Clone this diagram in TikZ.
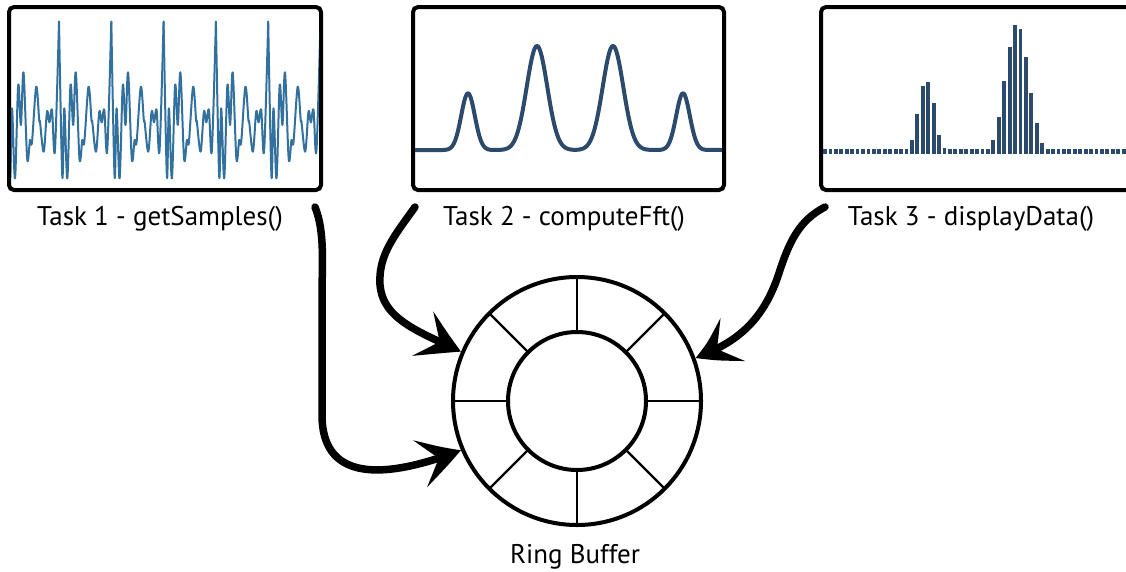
\documentclass[tikz,border=0pt]{standalone}
\usepackage{fontspec}
\setmainfont{PT Sans}
\usetikzlibrary{arrows.meta,bending}
\definecolor{wave}{RGB}{50,112,158}
\definecolor{spec}{RGB}{44,74,107}
\begin{document}
\begin{tikzpicture}[x=1pt,y=-1pt,
  panel/.style={draw=black, line width=4pt, rounded corners=5pt, inner sep=0pt},
  tasklabel/.style={font=\fontsize{27}{32}\selectfont, anchor=base, inner sep=0pt},
  flow/.style={line width=7.5pt, line cap=round,
    -{Stealth[length=44pt,width=48pt,inset=20pt,bend]}, shorten >=2pt},
  ringline/.style={draw=black, line width=4pt, circle, inner sep=0pt, outer sep=0pt},
  spoke/.style={line width=2.2pt},
  ]
\useasboundingbox (0,0) rectangle (1126,571);

% ---- panels ----
\node[panel, minimum width=312pt, minimum height=183pt] (p1) at (165,98.5) {};
\node[panel, minimum width=311pt, minimum height=183pt] (p2) at (568.5,98.5) {};
\node[panel, minimum width=312pt, minimum height=183pt] (p3) at (977,98.5) {};

% ---- sampled signal ----
\begin{scope}
  \clip (11,9) rectangle (319,189);
  \foreach \s in {6.7, 59, 111.3, 163.6, 215.9, 268.2} {
    \draw[wave, line width=2pt, line cap=round, line join=round, shift={(\s,0)}]
      plot[smooth, tension=0.55] coordinates {
        (0,21.7) (3.3,176.7) (5.3,108.3) (8.3,178.3) (11.5,85) (14.2,125)
        (16.8,72.3) (20.5,159) (23.3,140) (25.3,142) (29.5,86.7) (32.5,120)
        (33.3,122) (37,151.7) (40.3,111.7) (42.7,122.3) (45.3,110) (48.2,151)
        (52.3,21.7)};
  }
\end{scope}

% ---- spectrum curve ----
\draw[spec, line width=4pt, line join=round]
  (415,150) -- (443,150)
  -- plot[domain=443:493, samples=60] (\x, {150-56.7*exp(-((\x-468)/6.8)^2/2)})
  -- (499,150)
  -- plot[domain=499:575, samples=90] (\x, {150-104*exp(-((\x-537)/10.3)^2/2)})
  -- plot[domain=575:651, samples=90] (\x, {150-104*exp(-((\x-613)/10.3)^2/2)})
  -- (658,150)
  -- plot[domain=658:708, samples=60] (\x, {150-56.7*exp(-((\x-683)/6.8)^2/2)})
  -- (722,150);

% ---- bar display ----
\foreach \k in {0,...,55}
  \fill[spec] ({825+5.43*\k-1.9},149.3) rectangle ({825+5.43*\k+1.9},154);
\foreach \k/\h in {16/14,17/40,18/68,19/72,20/51,21/19,22/6,
                   31/14,32/37,33/73,34/107,35/129,36/125,37/97,38/61,39/31,40/11}
  \fill[spec] ({825+5.43*\k-1.9},{154-\h}) rectangle ({825+5.43*\k+1.9},154);

% ---- task labels ----
\node[tasklabel] (t1) at (160,225) {Task 1 - getSamples()};
\node[tasklabel] (t2) at (564,225) {Task 2 - computeFft()};
\node[tasklabel] (t3) at (971,225) {Task 3 - displayData()};

% ---- ring buffer ----
\node[ringline, minimum size=248pt] (ring) at (577,401) {};
\node[ringline, minimum size=138pt] (hub) at (577,401) {};
\foreach \a in {0,45,...,315}
  \draw[spoke] (hub.\a) -- (ring.\a);
\node[tasklabel] (rb) at (575,563) {Ring Buffer};

% ---- arrow start points ----
\coordinate (s1) at (315,207);
\coordinate (s2) at (415,207);
\coordinate (s3) at (825,207);

% ---- task flows into the buffer ----
\draw[flow] (s1) .. controls (325,232) and (322,262) .. (322,300)
  -- (322,415) .. controls (322,485) and (390,478) .. (ring.203);
\draw[flow] (s2) .. controls (395,235) and (378,255) .. (380,285)
  .. controls (383,320) and (420,332) .. (ring.157);
\draw[flow] (s3) .. controls (800,220) and (790,240) .. (780,270)
  .. controls (765,318) and (740,342) .. (ring.20);
\end{tikzpicture}
\end{document}
